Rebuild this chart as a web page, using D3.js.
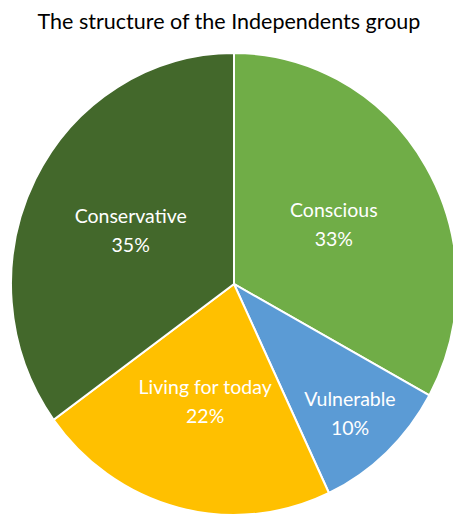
<!DOCTYPE html>
<html>
<head>
<meta charset="utf-8">
<script src="https://cdn.jsdelivr.net/npm/d3@7"></script>
<style>
  html, body { margin: 0; padding: 0; background: #fff; }
  svg { display: block; }
</style>
</head>
<body>
<div id="chart"></div>
<script>
const title = "The structure of the Independents group";
const categories = ["Conscious", "Vulnerable", "Living for today", "Conservative"];
const values = [33, 10, 22, 35];
const colors = ["#70AD47", "#5B9BD5", "#FFC000", "#43682B"];

const W = 453, H = 516;
const cx = 234, cy = 284, rx = 223, ry = 231;

const svg = d3.select("#chart").append("svg")
  .attr("width", W).attr("height", H);

svg.append("text")
  .attr("x", 229).attr("y", 29)
  .attr("text-anchor", "middle")
  .attr("font-family", "Lato, 'Open Sans', sans-serif")
  .attr("font-size", 21.5)
  .attr("fill", "#000")
  .text(title);

const data = categories.map((c, i) => ({ name: c, value: values[i], color: colors[i] }));
const pie = d3.pie().sort(null).value(d => d.value);
const arcs = pie(data);
const total = d3.sum(values);

const arc = d3.arc().innerRadius(0).outerRadius(rx);

const g = svg.append("g")
  .attr("transform", `translate(${cx},${cy}) scale(1,${ry / rx})`);

g.selectAll("path").data(arcs).enter().append("path")
  .attr("d", arc)
  .attr("fill", d => d.data.color)
  .attr("stroke", "#fff")
  .attr("stroke-width", 2)
  .attr("vector-effect", "non-scaling-stroke");

const labels = svg.append("g").attr("transform", `translate(${cx},${cy})`);
arcs.forEach(d => {
  const frac = d.data.value / total;
  const lr = frac < 0.15 ? 0.76 * rx : 0.52 * rx;
  const a = (d.startAngle + d.endAngle) / 2;
  const x = Math.sin(a) * lr;
  const y = -Math.cos(a) * lr * (ry / rx);
  const t = labels.append("text")
    .attr("text-anchor", "middle")
    .attr("font-family", "Lato, 'Open Sans', sans-serif")
    .attr("font-size", 19.5)
    .attr("fill", "#fff");
  t.append("tspan").attr("x", x).attr("y", y - 6).text(d.data.name);
  t.append("tspan").attr("x", x).attr("y", y + 23).text(Math.round(frac * 100) + "%");
});
</script>
</body>
</html>
